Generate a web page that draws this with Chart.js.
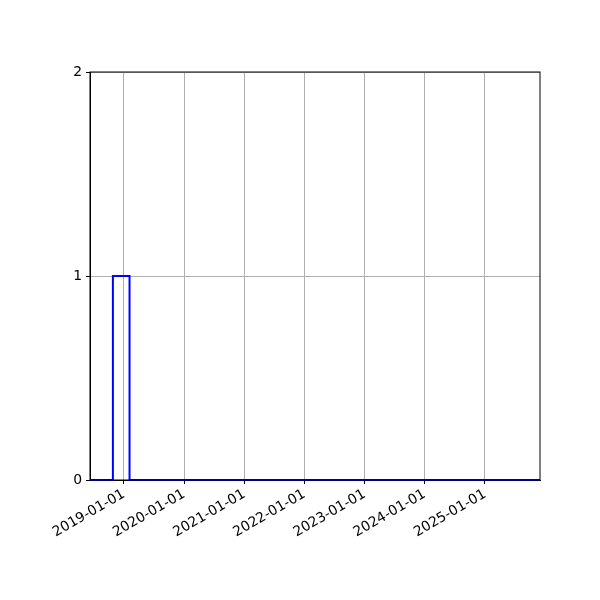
<!DOCTYPE html>
<html>
<head>
<meta charset="utf-8">
<script src="https://cdn.jsdelivr.net/npm/chart.js@4"></script>
<style>
  body { margin: 0; background: #fff; }
  canvas { display: block; }
</style>
</head>
<body>
<canvas id="grafico" width="600" height="600"></canvas>
<script>
// histogram outline: bin edges (dates) and counts per bin
const binEdges = ['2018-06-09', '2018-10-26', '2019-02-04', '2025-12-01'];
const binCounts = [0, 1, 0];

// x axis ticks (year starts)
const tickLabels = ['2019-01-01', '2020-01-01', '2021-01-01', '2022-01-01',
                    '2023-01-01', '2024-01-01', '2025-01-01'];
const yTicks = [0, 1, 2];

const edgesMs = binEdges.map(function (d) { return Date.parse(d); });
const ticksMs = tickLabels.map(function (d) { return Date.parse(d); });

const pontos = edgesMs.map(function (x, i) {
    return { x: x, y: i < binCounts.length ? binCounts[i] : 0 };
});

const fonte = { family: 'DejaVu Sans', size: 13.9 };
const cinza = '#b0b0b0';

// draws the four spines on top of everything
const moldura = {
    id: 'moldura',
    afterDraw: function (chart) {
        const a = chart.chartArea;
        const c = chart.ctx;
        c.save();
        c.strokeStyle = '#000';
        c.lineWidth = 1;
        c.strokeRect(a.left, a.top, a.right - a.left, a.bottom - a.top);
        c.restore();
    }
};

new Chart(document.getElementById('grafico'), {
    type: 'line',
    data: {
        datasets: [{
            data: pontos,
            borderColor: '#0000ff',
            borderWidth: 2,
            pointRadius: 0,
            fill: false,
            stepped: 'before',
            clip: false
        }]
    },
    options: {
        responsive: false,
        animation: false,
        devicePixelRatio: 1,
        layout: { padding: { top: 72, right: 60, left: 0, bottom: 0 } },
        plugins: {
            legend: { display: false },
            tooltip: { enabled: false }
        },
        scales: {
            x: {
                type: 'linear',
                min: edgesMs[0],
                max: edgesMs[edgesMs.length - 1],
                afterBuildTicks: function (axis) {
                    axis.ticks = ticksMs.map(function (v) { return { value: v }; });
                },
                afterFit: function (scale) { scale.height = 120; },
                ticks: {
                    autoSkip: false,
                    minRotation: 30,
                    maxRotation: 30,
                    color: '#000',
                    font: fonte,
                    padding: 2,
                    callback: function (value) {
                        const i = ticksMs.indexOf(value);
                        return i >= 0 ? tickLabels[i] : '';
                    }
                },
                grid: { color: cinza, lineWidth: 1, tickColor: '#000', tickLength: 4 },
                border: { color: '#000', width: 1 }
            },
            y: {
                min: yTicks[0],
                max: yTicks[yTicks.length - 1],
                afterBuildTicks: function (axis) {
                    axis.ticks = yTicks.map(function (v) { return { value: v }; });
                },
                afterFit: function (scale) { scale.width = 90; },
                ticks: { color: '#000', font: fonte, padding: 4 },
                grid: { color: cinza, lineWidth: 1, tickColor: '#000', tickLength: 4 },
                border: { color: '#000', width: 1 }
            }
        }
    },
    plugins: [moldura]
});
</script>
</body>
</html>
